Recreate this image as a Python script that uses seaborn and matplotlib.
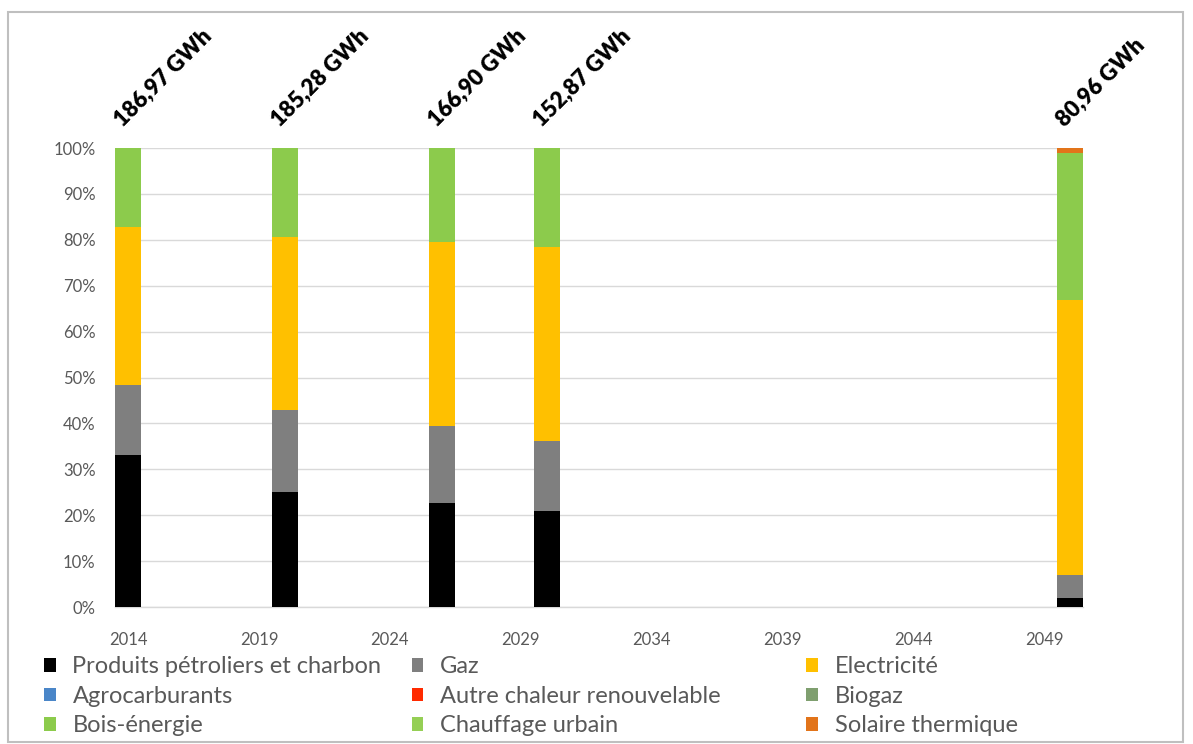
import numpy as np
import pandas as pd
import matplotlib
matplotlib.use("Agg")
import matplotlib.pyplot as plt
from matplotlib.patches import Patch, Rectangle
import seaborn as sns

# Years shown and total consumption per year (GWh)
years = [2014, 2020, 2026, 2030, 2050]
totals = ["186,97 GWh", "185,28 GWh", "166,90 GWh", "152,87 GWh", "80,96 GWh"]

# Share of each energy source (%), per year
produits_petroliers = [33.1, 25.1, 22.7, 20.9, 2.0]
gaz = [15.3, 17.8, 16.7, 15.3, 5.0]
electricite = [34.5, 37.8, 40.2, 42.2, 60.0]
agrocarburants = [0, 0, 0, 0, 0]
autre_chaleur = [0, 0, 0, 0, 0]
biogaz = [0, 0, 0, 0, 0]
bois_energie = [17.1, 19.3, 20.4, 21.6, 32.0]
chauffage_urbain = [0, 0, 0, 0, 0]
solaire_thermique = [0, 0, 0, 0, 1.0]

series_names = ["Produits pétroliers et charbon", "Gaz", "Electricité",
                "Agrocarburants", "Autre chaleur renouvelable", "Biogaz",
                "Bois-énergie", "Chauffage urbain", "Solaire thermique"]
series_values = [produits_petroliers, gaz, electricite, agrocarburants,
                 autre_chaleur, biogaz, bois_energie, chauffage_urbain,
                 solaire_thermique]
colors = ["#000000", "#7F7F7F", "#FFC000", "#4A86C8", "#FF2A00",
          "#7F9F6F", "#8CCB4C", "#95CF55", "#E2741A"]

x_ticks = [2014, 2019, 2024, 2029, 2034, 2039, 2044, 2049]
y_ticks = [0, 10, 20, 30, 40, 50, 60, 70, 80, 90, 100]

sns.set_theme(style="white")
plt.rcParams["font.family"] = ["Lato", "DejaVu Sans"]

fig = plt.figure(figsize=(11.93, 7.44), dpi=100)
ax = fig.add_axes([0.0965, 0.184, 0.8115, 0.617])

# cumulative tops, drawn from the highest layer down so each covers the next
cum = np.cumsum(np.array(series_values, dtype=float), axis=0) / 100.0
for i in range(len(series_names) - 1, -1, -1):
    df = pd.DataFrame({"year": years, "top": cum[i]})
    sns.barplot(data=df, x="year", y="top", native_scale=True, width=0.25,
                color=colors[i], saturation=1, errorbar=None, ax=ax,
                linewidth=0, zorder=3)

ax.set_xlim(2013.5, 2050.5)
ax.set_ylim(0, 1)
ax.set_xticks(x_ticks)
ax.set_xticklabels([str(t) for t in x_ticks])
ax.set_yticks([t / 100 for t in y_ticks])
ax.set_yticklabels([f"{t}%" for t in y_ticks])
ax.set_xlabel("")
ax.set_ylabel("")
ax.tick_params(axis="both", length=0, labelsize=12, labelcolor="#595959")
ax.tick_params(axis="x", pad=18)
ax.tick_params(axis="y", pad=14)
ax.grid(axis="y", color="#D9D9D9", linewidth=1.0, zorder=0)
ax.grid(axis="x", visible=False)
for side in ["left", "right", "top"]:
    ax.spines[side].set_visible(False)
ax.spines["bottom"].set_color("#D9D9D9")
ax.spines["bottom"].set_linewidth(1.0)
ax.set_axisbelow(True)

# total labels above each bar
for yr, lab in zip(years, totals):
    ax.text(yr - 0.2, 1.045, lab, rotation=45, rotation_mode="anchor",
            ha="left", va="baseline", fontsize=16, fontweight="heavy",
            color="#000000", clip_on=False)

# legend in three columns, row-major order
handles = [Patch(facecolor=c, edgecolor="none") for c in colors]
col_x = [0.037, 0.345, 0.676]
for col in range(3):
    idx = [col, col + 3, col + 6]
    fig.legend([handles[i] for i in idx], [series_names[i] for i in idx],
               loc="upper left", bbox_to_anchor=(col_x[col], 0.118),
               frameon=False, fontsize=17, labelcolor="#595959",
               handlelength=0.5, handleheight=0.5, handletextpad=0.7,
               labelspacing=0.36, borderaxespad=0, borderpad=0)

# outer chart border
fig.patches.append(Rectangle((8 / 1193, 2 / 744), 1175 / 1193, 730 / 744,
                             transform=fig.transFigure, fill=False,
                             edgecolor="#BFBFBF", linewidth=1.5))

fig.savefig("out.png", dpi=100)
